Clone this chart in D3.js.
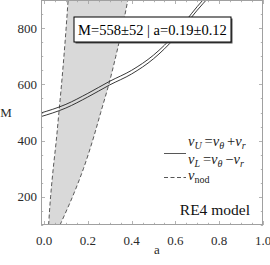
<!DOCTYPE html>
<html>
<head>
<meta charset="utf-8">
<script src="https://cdn.jsdelivr.net/npm/d3@7"></script>
<style>
  body { margin: 0; background: #fff; }
  svg { display: block; }
</style>
</head>
<body>
<svg></svg>
<script>
const size = {w: 270, h: 265};
const plot = {l: 41, r: 263, t: 0, b: 225};
const serif = '"Liberation Serif"';

// nodal precession curves (a as a function of M)
const nodM = [100, 200, 300, 400, 500, 600, 700, 800, 900];
const nodLeftA = [0.021, 0.030, 0.042, 0.056, 0.068, 0.080, 0.091, 0.101, 0.110];
const nodRightA = [0.073, 0.130, 0.180, 0.222, 0.259, 0.296, 0.328, 0.357, 0.383];

// upper / lower twin peak curves (M as a function of a)
const twinA = [-0.02, 0.1, 0.2, 0.3, 0.4, 0.5, 0.6, 0.7, 0.8];
const upperM = [497, 529, 568, 611, 650, 704, 780, 877, 962];
const lowerM = [484, 516, 555, 598, 637, 691, 767, 864, 949];

const xTicks = [0.0, 0.2, 0.4, 0.6, 0.8, 1.0];
const yTicks = [200, 400, 600, 800];
const boxText = 'M=558±52 | a=0.19±0.12';

const svg = d3.select('svg')
    .attr('width', size.w)
    .attr('height', size.h);

const x = d3.scaleLinear().domain([-0.0137, 1.0]).range([plot.l, plot.r]);
const y = d3.scaleLinear().domain([100, 900]).range([plot.b, plot.t]);

svg.append('clipPath').attr('id', 'clip')
    .append('rect')
    .attr('x', plot.l).attr('y', plot.t)
    .attr('width', plot.r - plot.l).attr('height', plot.b - plot.t);

const g = svg.append('g').attr('clip-path', 'url(#clip)');

// shaded band between the two nod curves
const nod = nodM.map((m, i) => ({m: m, a0: nodLeftA[i], a1: nodRightA[i]}));
g.append('path')
    .datum(nod)
    .attr('fill', '#d9d9d9')
    .attr('d', d3.area()
        .curve(d3.curveMonotoneY)
        .y(d => y(d.m))
        .x0(d => x(d.a0))
        .x1(d => x(d.a1)));

const nodLine = key => d3.line()
    .curve(d3.curveMonotoneY)
    .y(d => y(d.m))
    .x(d => x(d[key]));

['a0', 'a1'].forEach(k => {
    g.append('path')
        .datum(nod)
        .attr('fill', 'none')
        .attr('stroke', '#333')
        .attr('stroke-width', 0.8)
        .attr('stroke-dasharray', '4,2.5')
        .attr('d', nodLine(k));
});

// twin curves
const twinLine = d3.line()
    .curve(d3.curveMonotoneX)
    .x(d => x(d[0]))
    .y(d => y(d[1]));

[upperM, lowerM].forEach(ms => {
    g.append('path')
        .datum(twinA.map((a, i) => [a, ms[i]]))
        .attr('fill', 'none')
        .attr('stroke', '#222')
        .attr('stroke-width', 0.9)
        .attr('d', twinLine);
});

// frame with inward ticks
const frameColor = '#a0a0a0';
svg.append('rect')
    .attr('x', plot.l + 0.5).attr('y', plot.t + 0.5)
    .attr('width', plot.r - plot.l - 1).attr('height', plot.b - plot.t - 1)
    .attr('fill', 'none')
    .attr('stroke', frameColor)
    .attr('stroke-width', 1);

const ticksG = svg.append('g').attr('stroke', frameColor).attr('stroke-width', 0.8);
d3.range(0, 1.0001, 0.05).forEach(v => {
    const major = Math.abs(v / 0.2 - Math.round(v / 0.2)) < 1e-6;
    const len = major ? 4 : 2.2;
    const px = Math.round(x(v)) + 0.5;
    ticksG.append('line').attr('x1', px).attr('x2', px).attr('y1', plot.b).attr('y2', plot.b - len);
    ticksG.append('line').attr('x1', px).attr('x2', px).attr('y1', plot.t).attr('y2', plot.t + len);
});
d3.range(100, 901, 50).forEach(v => {
    const major = v % 200 === 0;
    const len = major ? 4 : 2.2;
    const py = Math.round(y(v)) + 0.5;
    ticksG.append('line').attr('y1', py).attr('y2', py).attr('x1', plot.l).attr('x2', plot.l + len);
    ticksG.append('line').attr('y1', py).attr('y2', py).attr('x1', plot.r).attr('x2', plot.r - len);
});

// tick labels
svg.append('g').selectAll('text')
    .data(xTicks)
    .join('text')
    .attr('x', d => x(d))
    .attr('y', 245)
    .attr('text-anchor', 'middle')
    .attr('font-size', 13)
    .attr('fill', '#2a2a2a')
    .style('font-family', serif)
    .text(d => d.toFixed(1));

svg.append('g').selectAll('text')
    .data(yTicks)
    .join('text')
    .attr('x', 37)
    .attr('y', d => y(d) + 4.5)
    .attr('text-anchor', 'end')
    .attr('font-size', 13)
    .attr('fill', '#2a2a2a')
    .style('font-family', serif)
    .text(d => d);

// axis labels
svg.append('text').attr('x', 6).attr('y', 117)
    .attr('text-anchor', 'middle').attr('font-size', 13).attr('fill', '#2a2a2a')
    .style('font-family', serif).text('M');
svg.append('text').attr('x', 157).attr('y', 254)
    .attr('text-anchor', 'middle').attr('font-size', 13).attr('fill', '#2a2a2a')
    .style('font-family', serif).text('a');

// framed result box with drop shadow
const box = {x: 74, y: 17, w: 157, h: 25};
svg.append('rect')
    .attr('x', box.x + 1.5).attr('y', box.y + 1.5)
    .attr('width', box.w).attr('height', box.h)
    .attr('fill', '#555');
svg.append('rect')
    .attr('x', box.x).attr('y', box.y)
    .attr('width', box.w).attr('height', box.h)
    .attr('fill', '#fff')
    .attr('stroke', '#000')
    .attr('stroke-width', 1);
svg.append('text')
    .attr('x', box.x + box.w / 2).attr('y', box.y + 17.5)
    .attr('text-anchor', 'middle')
    .attr('font-size', 14.5)
    .attr('fill', '#000')
    .style('font-family', serif)
    .text(boxText);

// legend
const leg = svg.append('g');
function sub(t, main, s) {
    t.append('tspan').attr('font-style', 'italic').text(main);
    t.append('tspan').attr('font-size', 10).attr('dy', 3)
        .attr('font-style', s === 'nod' ? 'normal' : 'italic').text(s);
    t.append('tspan').attr('dy', -3).text('\u2009');
}
function legText(xp, yp) {
    return leg.append('text').attr('x', xp).attr('y', yp)
        .attr('font-size', 14.5).attr('fill', '#222')
        .style('font-family', serif);
}
const row1 = legText(188, 146);
sub(row1, 'ν', 'U'); row1.append('tspan').text('=');
sub(row1, 'ν', 'θ'); row1.append('tspan').text('+');
sub(row1, 'ν', 'r');
const row2 = legText(188, 164);
sub(row2, 'ν', 'L'); row2.append('tspan').text('=');
sub(row2, 'ν', 'θ'); row2.append('tspan').text('−');
sub(row2, 'ν', 'r');
const row3 = legText(188, 180);
sub(row3, 'ν', 'nod');

leg.append('line').attr('x1', 164).attr('x2', 186).attr('y1', 153.5).attr('y2', 153.5)
    .attr('stroke', '#444').attr('stroke-width', 0.9);
leg.append('line').attr('x1', 164).attr('x2', 186).attr('y1', 177.5).attr('y2', 177.5)
    .attr('stroke', '#444').attr('stroke-width', 0.9).attr('stroke-dasharray', '4,2.5');

svg.append('text').attr('x', 250).attr('y', 215)
    .attr('text-anchor', 'end').attr('font-size', 15.5).attr('fill', '#111')
    .style('font-family', serif)
    .text('RE4 model');
</script>
</body>
</html>
